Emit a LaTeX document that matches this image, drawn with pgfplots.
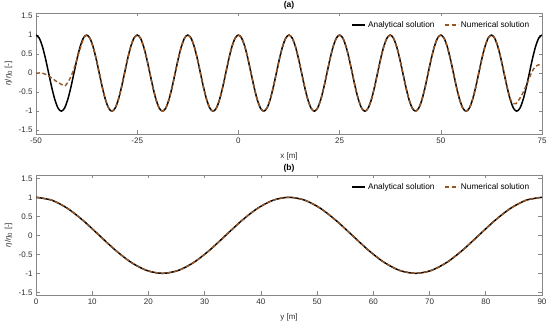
\documentclass[border=0pt]{standalone}
\usepackage{fontspec}
\setmainfont{Liberation Sans}
\usepackage{pgfplots}
\pgfplotsset{compat=1.18}
\usepackage{pgfplotstable}
\definecolor{numc}{RGB}{150,85,35}
\definecolor{axc}{RGB}{135,135,135}
\definecolor{labc}{RGB}{45,45,45}

\pgfplotstableread{
x y
-50 1
-49.219 0.9239
-48.438 0.7071
-47.656 0.3827
-46.875 0
-46.094 -0.3827
-45.313 -0.7071
-44.531 -0.9239
-43.75 -1
-42.969 -0.9239
-42.188 -0.7071
-41.406 -0.3827
-40.625 0
-39.844 0.3827
-39.063 0.7071
-38.281 0.9239
-37.5 1
-36.719 0.9239
-35.938 0.7071
-35.156 0.3827
-34.375 0
-33.594 -0.3827
-32.813 -0.7071
-32.031 -0.9239
-31.25 -1
-30.469 -0.9239
-29.688 -0.7071
-28.906 -0.3827
-28.125 0
-27.344 0.3827
-26.563 0.7071
-25.781 0.9239
-25 1
-24.219 0.9239
-23.438 0.7071
-22.656 0.3827
-21.875 0
-21.094 -0.3827
-20.313 -0.7071
-19.531 -0.9239
-18.75 -1
-17.969 -0.9239
-17.188 -0.7071
-16.406 -0.3827
-15.625 0
-14.844 0.3827
-14.063 0.7071
-13.281 0.9239
-12.5 1
-11.719 0.9239
-10.938 0.7071
-10.156 0.3827
-9.375 0
-8.594 -0.3827
-7.813 -0.7071
-7.031 -0.9239
-6.25 -1
-5.469 -0.9239
-4.688 -0.7071
-3.906 -0.3827
-3.125 0
-2.344 0.3827
-1.563 0.7071
-0.781 0.9239
0 1
0.781 0.9239
1.563 0.7071
2.344 0.3827
3.125 0
3.906 -0.3827
4.688 -0.7071
5.469 -0.9239
6.25 -1
7.031 -0.9239
7.813 -0.7071
8.594 -0.3827
9.375 0
10.156 0.3827
10.938 0.7071
11.719 0.9239
12.5 1
13.281 0.9239
14.063 0.7071
14.844 0.3827
15.625 0
16.406 -0.3827
17.188 -0.7071
17.969 -0.9239
18.75 -1
19.531 -0.9239
20.313 -0.7071
21.094 -0.3827
21.875 0
22.656 0.3827
23.438 0.7071
24.219 0.9239
25 1
25.781 0.9239
26.563 0.7071
27.344 0.3827
28.125 0
28.906 -0.3827
29.688 -0.7071
30.469 -0.9239
31.25 -1
32.031 -0.9239
32.813 -0.7071
33.594 -0.3827
34.375 0
35.156 0.3827
35.938 0.7071
36.719 0.9239
37.5 1
38.281 0.9239
39.063 0.7071
39.844 0.3827
40.625 0
41.406 -0.3827
42.188 -0.7071
42.969 -0.9239
43.75 -1
44.531 -0.9239
45.313 -0.7071
46.094 -0.3827
46.875 0
47.656 0.3827
48.438 0.7071
49.219 0.9239
50 1
50.781 0.9239
51.563 0.7071
52.344 0.3827
53.125 0
53.906 -0.3827
54.688 -0.7071
55.469 -0.9239
56.25 -1
57.031 -0.9239
57.813 -0.7071
58.594 -0.3827
59.375 0
60.156 0.3827
60.938 0.7071
61.719 0.9239
62.5 1
63.281 0.9239
64.063 0.7071
64.844 0.3827
65.625 0
66.406 -0.3827
67.188 -0.7071
67.969 -0.9239
68.75 -1
69.531 -0.9239
70.313 -0.7071
71.094 -0.3827
71.875 0
72.656 0.3827
73.438 0.7071
74.219 0.9239
75 1
}\topA

\pgfplotstableread{
x y
-50 0
-48.4 0
-46.8 -0.08
-45.2 -0.2
-43.8 -0.29
-42.8 -0.33
-41.6 -0.14
-40.6 0.12
-39.8 0.4
-39.063 0.65
-38.281 0.9
-37.5 1
-36.719 0.9239
-35.938 0.7071
-35.156 0.3827
-34.375 0
-33.594 -0.3827
-32.813 -0.7071
-32.031 -0.9239
-31.25 -1
-30.469 -0.9239
-29.688 -0.7071
-28.906 -0.3827
-28.125 0
-27.344 0.3827
-26.563 0.7071
-25.781 0.9239
-25 1
-24.219 0.9239
-23.438 0.7071
-22.656 0.3827
-21.875 0
-21.094 -0.3827
-20.313 -0.7071
-19.531 -0.9239
-18.75 -1
-17.969 -0.9239
-17.188 -0.7071
-16.406 -0.3827
-15.625 0
-14.844 0.3827
-14.063 0.7071
-13.281 0.9239
-12.5 1
-11.719 0.9239
-10.938 0.7071
-10.156 0.3827
-9.375 0
-8.594 -0.3827
-7.813 -0.7071
-7.031 -0.9239
-6.25 -1
-5.469 -0.9239
-4.688 -0.7071
-3.906 -0.3827
-3.125 0
-2.344 0.3827
-1.563 0.7071
-0.781 0.9239
0 1
0.781 0.9239
1.563 0.7071
2.344 0.3827
3.125 0
3.906 -0.3827
4.688 -0.7071
5.469 -0.9239
6.25 -1
7.031 -0.9239
7.813 -0.7071
8.594 -0.3827
9.375 0
10.156 0.3827
10.938 0.7071
11.719 0.9239
12.5 1
13.281 0.9239
14.063 0.7071
14.844 0.3827
15.625 0
16.406 -0.3827
17.188 -0.7071
17.969 -0.9239
18.75 -1
19.531 -0.9239
20.313 -0.7071
21.094 -0.3827
21.875 0
22.656 0.3827
23.438 0.7071
24.219 0.9239
25 1
25.781 0.9239
26.563 0.7071
27.344 0.3827
28.125 0
28.906 -0.3827
29.688 -0.7071
30.469 -0.9239
31.25 -1
32.031 -0.9239
32.813 -0.7071
33.594 -0.3827
34.375 0
35.156 0.3827
35.938 0.7071
36.719 0.9239
37.5 1
38.281 0.9239
39.063 0.7071
39.844 0.3827
40.625 0
41.406 -0.3827
42.188 -0.7071
42.969 -0.9239
43.75 -1
44.531 -0.9239
45.313 -0.7071
46.094 -0.3827
46.875 0
47.656 0.3827
48.438 0.7071
49.219 0.9239
50 1
50.781 0.9239
51.563 0.7071
52.344 0.3827
53.125 0
53.906 -0.3827
54.688 -0.7071
55.469 -0.9239
56.25 -1
57.031 -0.9239
57.813 -0.7071
58.594 -0.3827
59.375 0
60.156 0.3827
60.938 0.7071
61.719 0.9239
62.5 1
63.281 0.9239
64.063 0.7071
64.844 0.3827
65.625 0
66.406 -0.3827
67.188 -0.68
67.9 -0.8
68.6 -0.8
69.3 -0.7
70 -0.58
70.8 -0.4
71.6 -0.2
72.5 0.03
73.4 0.18
74.2 0.22
75 0.22
}\topN

\pgfplotstableread{
x y
0 1
2.8125 0.9239
5.625 0.7071
8.4375 0.3827
11.25 0
14.0625 -0.3827
16.875 -0.7071
19.6875 -0.9239
22.5 -1
25.3125 -0.9239
28.125 -0.7071
30.9375 -0.3827
33.75 0
36.5625 0.3827
39.375 0.7071
42.1875 0.9239
45 1
47.8125 0.9239
50.625 0.7071
53.4375 0.3827
56.25 0
59.0625 -0.3827
61.875 -0.7071
64.6875 -0.9239
67.5 -1
70.3125 -0.9239
73.125 -0.7071
75.9375 -0.3827
78.75 0
81.5625 0.3827
84.375 0.7071
87.1875 0.9239
90 1
}\botA

\pgfplotsset{
  myax/.style={
    scale only axis, width=506pt, height=121pt,
    axis line style={axc, line width=0.6pt},
    tick style={axc, line width=0.6pt},
    major tick length=3.5pt, tick align=inside, tick pos=both,
    ymin=-1.6, ymax=1.58,
    ytick={-1.5,-1,-0.5,0,0.5,1,1.5},
    yticklabels={-1.5,-1,-0.5,0,0.5,1,1.5},
    ticklabel style={font=\fontsize{8}{9}\selectfont, text=labc},
    /pgf/number format/assume math mode=true,
    xlabel style={at={(axis description cs:0.5,0)}, anchor=center, yshift=-22pt, font=\fontsize{8}{9}\selectfont, text=labc},
    ylabel style={at={(axis description cs:-0.054,0.5)}, anchor=center, font=\fontsize{8}{9}\selectfont, text=labc},
    ylabel={\textit{η}/\textit{η}\textsubscript{0} [-]},
    legend style={draw=none, fill=none, font=\fontsize{8.3}{9}\selectfont, legend columns=2,
      at={(rel axis cs:0.985,0.965)}, anchor=north east,
      /tikz/every even column/.append style={column sep=8pt}},
    legend image code/.code={\draw[##1] (0pt,0pt) -- (13pt,0pt);},
  },
  anal/.style={black, line width=1.5pt, smooth},
  numer/.style={numc, line width=1.4pt, dash pattern=on 4pt off 2.5pt, smooth},
}

\begin{document}
\begin{tikzpicture}
\path[use as bounding box] (0pt,0pt) rectangle (550pt,327pt);
\begin{axis}[myax, name=A, at={(36pt,193pt)}, anchor=south west,
  xmin=-50, xmax=75, xtick={-50,-25,0,25,50,75},
  xticklabels={-50,-25,0,25,50,75},
  xlabel={x [m]}]
\addplot[anal] table[x=x,y=y] {\topA};
\addlegendentry{Analytical solution}
\addplot[numer] table[x=x,y=y] {\topN};
\addlegendentry{Numerical solution}
\end{axis}
\node[font=\bfseries\fontsize{8.5}{9}\selectfont, anchor=center, yshift=8pt] at (A.north) {(a)};
\begin{axis}[myax, name=B, at={(36pt,32pt)}, anchor=south west, height=120pt,
  xmin=0, xmax=90, xtick={0,10,...,90},
  xticklabels={0,10,20,30,40,50,60,70,80,90},
  ymin=-1.57, ymax=1.587,
  xlabel={y [m]}]
\addplot[anal] table[x=x,y=y] {\botA};
\addlegendentry{Analytical solution}
\addplot[numer] table[x=x,y=y] {\botA};
\addlegendentry{Numerical solution}
\end{axis}
\node[font=\bfseries\fontsize{8.5}{9}\selectfont, anchor=center, yshift=7pt] at (B.north) {(b)};
\end{tikzpicture}
\end{document}
